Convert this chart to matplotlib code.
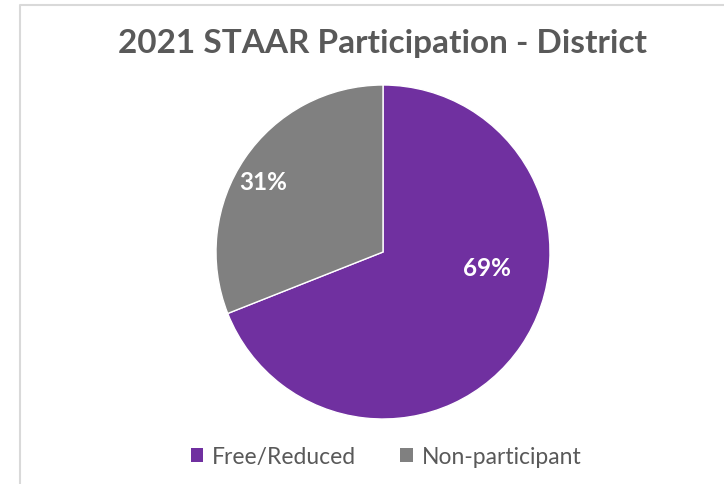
import matplotlib.pyplot as plt
from matplotlib.lines import Line2D
from matplotlib.patches import Patch

labels = ["Free/Reduced", "Non-participant"]
values = [69, 31]
colors = ["#7030A0", "#808080"]
label_pos = [(0.62, -0.09), (-0.72, 0.42)]

plt.rcParams['font.family'] = ['Lato', 'DejaVu Sans']

fig = plt.figure(figsize=(7.24, 4.85), dpi=100)
W, H = 724, 485

# chart frame (only left/top edges visible)
fig.add_artist(Line2D([20/W, 20/W, 1], [0, 1-6/H, 1-6/H], transform=fig.transFigure,
                      color="#d9d9d9", lw=1.5))

ax = fig.add_axes([216/W, 65/H, 334/W, 334/H])
wedges, _ = ax.pie(values, colors=colors, startangle=90, counterclock=False,
                   wedgeprops=dict(edgecolor="white", linewidth=1))
ax.set_xlim(-1, 1)
ax.set_ylim(-1, 1)
ax.set_aspect('equal')

for v, (x, y) in zip(values, label_pos):
    ax.text(x, y, f"{v}%", color="white", fontsize=17.5, fontweight="bold",
            ha="center", va="center")

fig.text(383/W, 1-43/H, "2021 STAAR Participation - District", ha="center", va="center",
         fontsize=24, fontweight="bold", color="#595959")

handles = [Patch(facecolor=c, edgecolor="none") for c in colors]
fig.legend(handles, labels, loc="center", bbox_to_anchor=(386/W, 1-458/H), ncol=2,
           frameon=False, fontsize=16.5, handlelength=0.55, handleheight=0.55,
           handletextpad=0.4, columnspacing=1.9, labelcolor="#595959")

plt.savefig("out.png", dpi=100)
